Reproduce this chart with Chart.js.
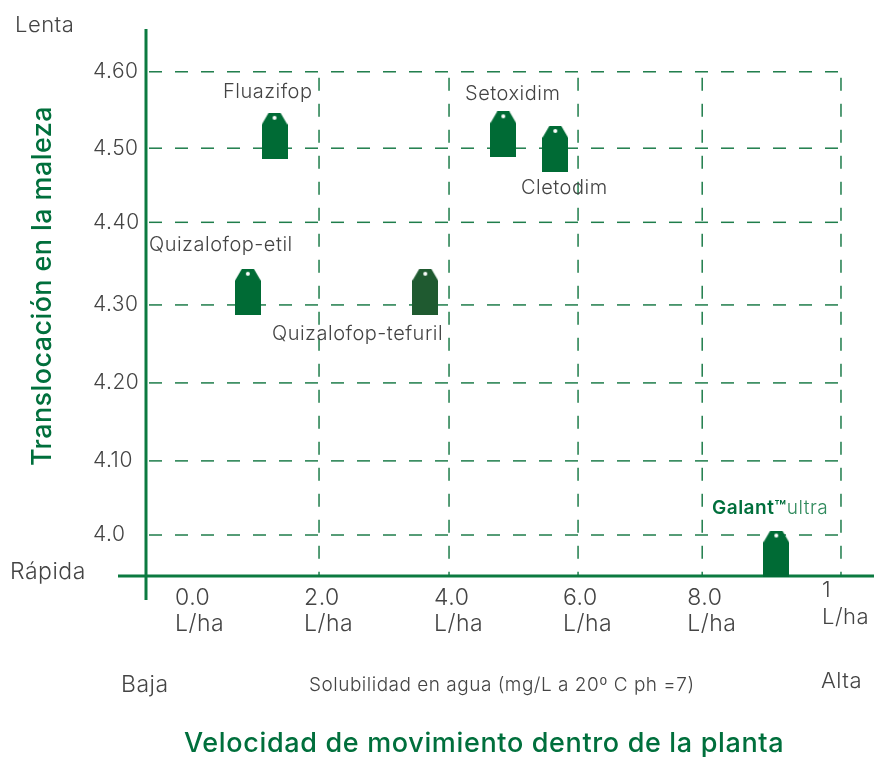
<!DOCTYPE html>
<html>
<head>
<meta charset="utf-8">
<script src="https://cdn.jsdelivr.net/npm/chart.js@4"></script>
<style>
  html, body { margin: 0; padding: 0; background: #fff; }
  canvas { display: block; }
</style>
</head>
<body>
<canvas id="chart" width="874" height="757"></canvas>
<script>
const products = ['Fluazifop', 'Setoxidim', 'Cletodim', 'Quizalofop-etil', 'Quizalofop-tefuril', 'Galant'];
const solubility = [1.3, 4.82, 5.62, 0.89, 3.62, 9.02];
const translocation = [4.517, 4.519, 4.5, 4.315, 4.315, 3.976];
const tagColors = ['#006b35', '#006b35', '#006b35', '#006b35', '#1f5a30', '#006b35'];

// grid lines in the picture are not evenly spaced, so the tick values follow them
const xTickValues = [0, 1.985, 3.985, 5.97, 7.88, 10.015];
const xTickLabels = [['0.0', 'L/ha'], ['2.0', 'L/ha'], ['4.0', 'L/ha'], ['6.0', 'L/ha'], ['8.0', 'L/ha'], ''];
const yTickValues = [4.0, 4.096, 4.197, 4.298, 4.405, 4.501, 4.6];
const yTickLabels = ['4.0', '4.10', '4.20', '4.30', '4.40', '4.50', '4.60'];

const FONT = 'Inter, sans-serif';
const GREEN = '#006f3c';
const TEXT = '#444444';

function makeTag(color) {
    const c = document.createElement('canvas');
    c.width = 26;
    c.height = 46;
    const g = c.getContext('2d');
    g.fillStyle = color;
    g.beginPath();
    g.moveTo(7, 0);
    g.lineTo(19, 0);
    g.lineTo(26, 12);
    g.lineTo(26, 46);
    g.lineTo(0, 46);
    g.lineTo(0, 12);
    g.closePath();
    g.fill();
    g.fillStyle = '#fff';
    g.beginPath();
    g.arc(13, 5, 2, 0, Math.PI * 2);
    g.fill();
    return c;
}

const notes = [
    { text: 'Lenta', x: 15, y: 25, size: 22 },
    { text: 'Rápida', x: 10, y: 572, size: 23 },
    { text: 'Baja', x: 121, y: 685, size: 23 },
    { text: 'Alta', x: 821, y: 681, size: 22 },
    { text: 'Solubilidad en agua (mg/L a 20º C ph =7)', x: 309, y: 685, size: 19 },
    { text: '1', x: 822, y: 590, size: 22 },
    { text: 'L/ha', x: 822, y: 617, size: 22 },
    { text: 'Fluazifop', x: 223, y: 92, size: 20 },
    { text: 'Setoxidim', x: 465, y: 94, size: 20 },
    { text: 'Cletodim', x: 521, y: 188, size: 20 },
    { text: 'Quizalofop-etil', x: 149, y: 245, size: 20 },
    { text: 'Quizalofop-tefuril', x: 272, y: 334, size: 20 },
    { text: 'Velocidad de movimiento dentro de la planta', x: 184, y: 744, size: 27, weight: '500', color: GREEN, spacing: '0.65px' }
];

const gridAndAxes = {
    id: 'gridAndAxes',
    beforeDraw(chart) {
        // the original face is wider than anything installed
        chart.ctx.letterSpacing = '0.5px';
    },
    beforeDatasetsDraw(chart) {
        const { ctx, scales: { x, y } } = chart;
        const left = x.getPixelForValue(x.min);
        const right = x.getPixelForValue(xTickValues[xTickValues.length - 1]);
        const bottom = y.getPixelForValue(y.min);
        const top = y.getPixelForValue(yTickValues[yTickValues.length - 1]);
        ctx.save();
        ctx.strokeStyle = '#1f7d4b';
        ctx.lineWidth = 1.5;
        ctx.setLineDash([13, 13]);
        yTickValues.forEach(v => {
            const p = y.getPixelForValue(v);
            ctx.beginPath();
            ctx.moveTo(left + 3, p);
            ctx.lineTo(right, p);
            ctx.stroke();
        });
        xTickValues.slice(1).forEach(v => {
            const p = x.getPixelForValue(v);
            ctx.beginPath();
            ctx.moveTo(p, top + 6);
            ctx.lineTo(p, bottom);
            ctx.stroke();
        });
        ctx.setLineDash([]);
        ctx.strokeStyle = '#0b7a40';
        ctx.lineWidth = 3;
        ctx.beginPath();
        ctx.moveTo(left, y.getPixelForValue(y.max));
        ctx.lineTo(left, bottom + 24);
        ctx.moveTo(left - 28, bottom);
        ctx.lineTo(chart.width, bottom);
        ctx.stroke();
        ctx.restore();
    },
    afterDraw(chart) {
        const { ctx } = chart;
        ctx.save();
        ctx.textBaseline = 'middle';
        ctx.textAlign = 'left';
        notes.forEach(n => {
            ctx.font = `${n.weight || '300'} ${n.size}px ${FONT}`;
            ctx.letterSpacing = n.spacing || '0.5px';
            ctx.fillStyle = n.color || TEXT;
            ctx.fillText(n.text, n.x, n.y);
        });
        // brand label has two weights
        ctx.letterSpacing = '0.5px';
        ctx.font = `600 19px ${FONT}`;
        ctx.fillStyle = GREEN;
        ctx.fillText('Galant™', 712, 508);
        const w = ctx.measureText('Galant™').width;
        ctx.font = `300 19px ${FONT}`;
        ctx.fillStyle = '#2f8a5c';
        ctx.fillText('ultra', 712 + w, 508);
        // y axis title
        ctx.translate(43, 286);
        ctx.rotate(-Math.PI / 2);
        ctx.textAlign = 'center';
        ctx.letterSpacing = '0.4px';
        ctx.font = `500 27px ${FONT}`;
        ctx.fillStyle = GREEN;
        ctx.fillText('Translocación en la maleza', 0, 0);
        ctx.restore();
    }
};

new Chart(document.getElementById('chart'), {
    type: 'scatter',
    data: {
        datasets: [{
            data: products.map((p, i) => ({ x: solubility[i], y: translocation[i] })),
            pointStyle: tagColors.map(makeTag),
            clip: false
        }]
    },
    options: {
        responsive: false,
        animation: false,
        layout: { autoPadding: false, padding: { top: 29, right: 0, left: 93, bottom: 0 } },
        plugins: { legend: { display: false }, tooltip: { enabled: false } },
        scales: {
            x: {
                type: 'linear',
                min: -0.677,
                max: 10.523,
                grid: { display: false },
                border: { display: false },
                afterFit(scale) {
                    scale.height = 181;
                    scale.paddingLeft = 0;
                    scale.paddingRight = 0;
                },
                afterBuildTicks(scale) { scale.ticks = xTickValues.map(v => ({ value: v })); },
                ticks: {
                    autoSkip: false,
                    maxRotation: 0,
                    align: 'start',
                    labelOffset: -15,
                    padding: 2,
                    color: TEXT,
                    font: { family: FONT, size: 23, weight: '300', lineHeight: 1.09 },
                    callback: (v, i) => xTickLabels[i]
                }
            },
            y: {
                type: 'linear',
                min: 3.9469,
                max: 4.6554,
                grid: { display: false },
                border: { display: false },
                afterFit(scale) { scale.width = 53; },
                afterBuildTicks(scale) { scale.ticks = yTickValues.map(v => ({ value: v })); },
                ticks: {
                    autoSkip: false,
                    crossAlign: 'far',
                    padding: 9,
                    color: TEXT,
                    font: { family: FONT, size: 21, weight: '300' },
                    callback: (v, i) => yTickLabels[i]
                }
            }
        }
    },
    plugins: [gridAndAxes]
});
</script>
</body>
</html>
